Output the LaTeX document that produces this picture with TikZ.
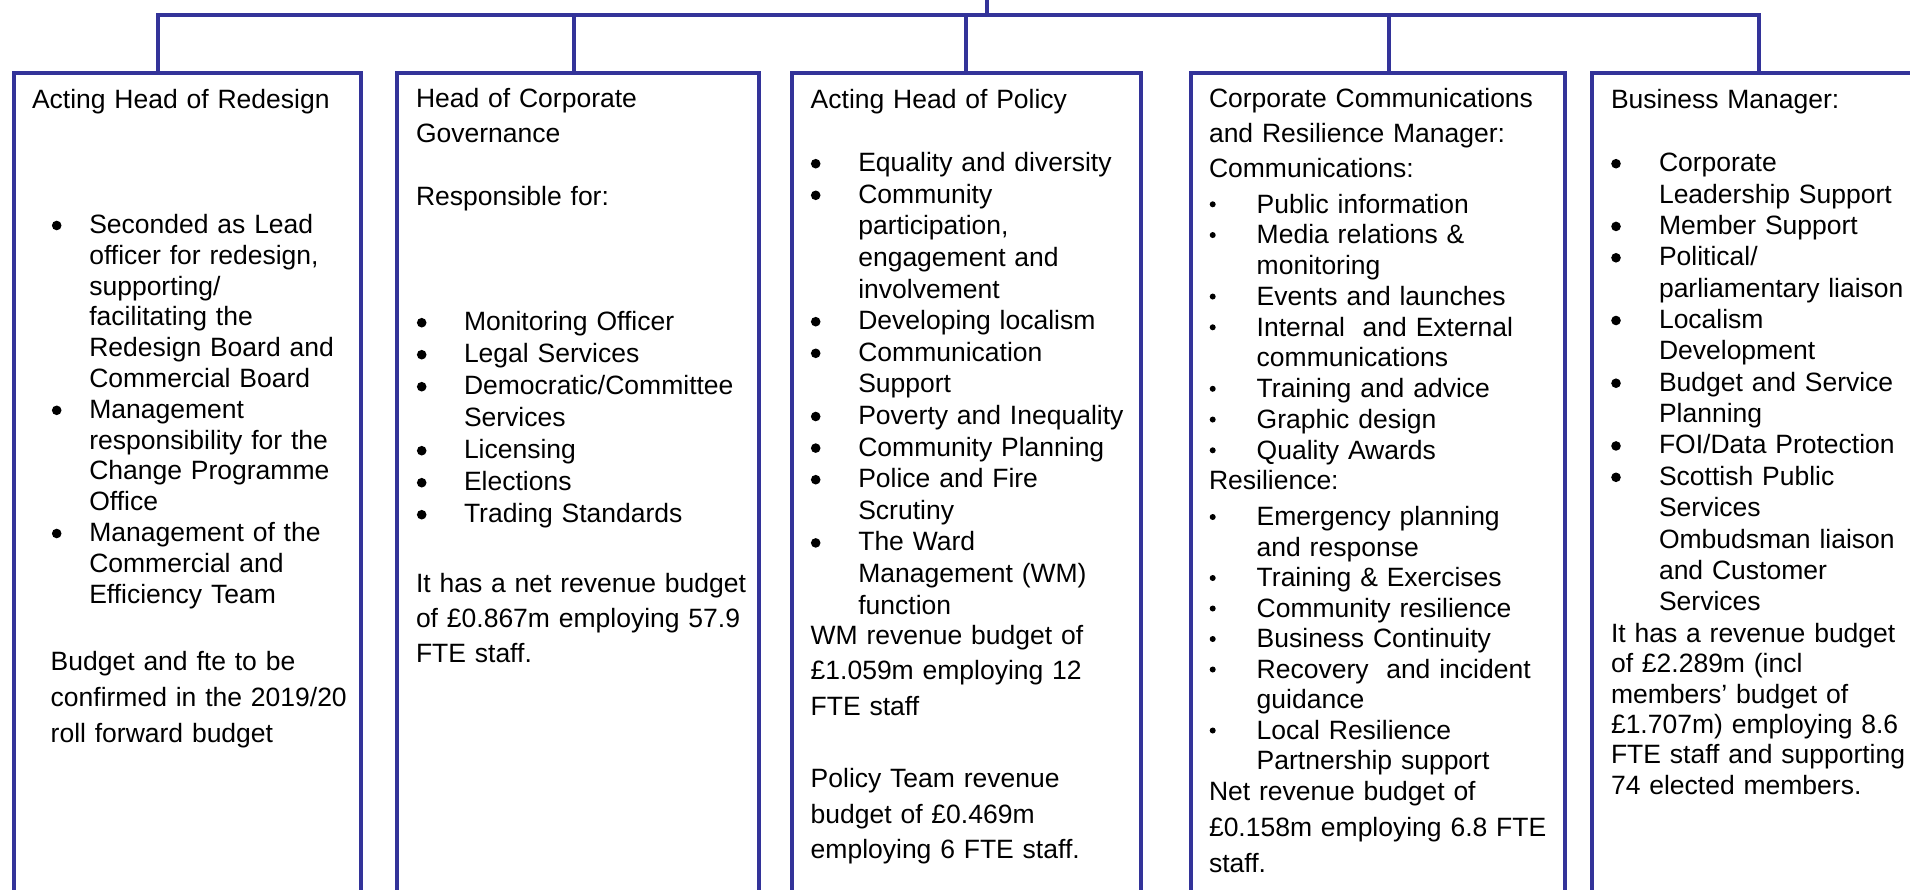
\documentclass[tikz,border=0pt]{standalone}
\usepackage{fontspec}
\setmainfont{Liberation Sans}
\definecolor{orgblue}{RGB}{51,51,153}
\setlength\parindent{0pt}
\newlength\bind
\newcommand\bigdot{\tikz[baseline=0pt]\fill[black] (0pt,8pt) circle[radius=4.8pt];}
\newcommand\smalldot{\tikz[baseline=0pt]\fill[black] (0pt,8.7pt) circle[radius=3pt];}
\newcommand\bitem{\makebox[\bind][l]{\bigdot}}
\newcommand\sitem{\makebox[\bind][l]{\smalldot}}
\newcommand\bcont{\hspace*{\bind}}
\newcommand\fl{\rule{0pt}{20pt}}
\begin{document}
\begin{tikzpicture}[x=1pt,y=-1pt,
  conn/.style={draw=orgblue, line width=4pt, line join=miter},
  orgbox/.style={draw=orgblue, line width=4pt, rectangle, anchor=north west,
    inner sep=0pt, outer sep=0pt, minimum height=900pt},
  txt/.style={anchor=north west, inner sep=0pt, outer sep=0pt, text width=400pt, align=left}]
\useasboundingbox (0,0) rectangle (1910,889);
\clip (0,0) rectangle (1910,889);
\fill[white] (0,0) rectangle (1910,889);

% boxes
\node[orgbox, minimum width=347pt]   (b1) at (13.7,73.3) {};
\node[orgbox, minimum width=362.3pt] (b2) at (397,73.3) {};
\node[orgbox, minimum width=349.3pt] (b3) at (791.7,73.3) {};
\node[orgbox, minimum width=374pt]   (b4) at (1191,73.3) {};
\node[orgbox, minimum width=330pt]   (b5) at (1592.3,73.3) {};

% connectors
\coordinate (top) at (987,0);
\coordinate (hub) at (987,15);
\coordinate (d1) at (158.3,15);
\coordinate (d2) at (574.3,15);
\coordinate (d3) at (966,15);
\coordinate (d4) at (1388.7,15);
\coordinate (d5) at (1759,15);
\draw[conn] (top) -- (hub);
\draw[conn] (d1 |- b1.north) -- (d1) -- (d5) -- (d5 |- b5.north);
\draw[conn] (d2) -- (d2 |- b2.north);
\draw[conn] (d3) -- (d3 |- b3.north);
\draw[conn] (d4) -- (d4 |- b4.north);

% box 1
\node[txt, font=\fontsize{26.5}{35}\selectfont] (t1) at (32,88.5) {\fl Acting Head of Redesign};
\node[txt, font=\fontsize{26.5}{30.8}\selectfont] (l1) at (51.9,213.5) {\setlength\bind{37.4pt}\fl
\bitem Seconded as Lead\\
\bcont officer for redesign,\\
\bcont supporting/\\
\bcont facilitating the\\
\bcont Redesign Board and\\
\bcont Commercial Board\\
\bitem Management\\
\bcont responsibility for the\\
\bcont Change Programme\\
\bcont Office\\
\bitem Management of the\\
\bcont Commercial and\\
\bcont Efficiency Team};
\node[txt, font=\fontsize{26.5}{35.8}\selectfont] (f1) at (50.7,650.7) {\fl Budget and fte to be\\
confirmed in the 2019/20\\
roll forward budget};

% box 2
\node[txt, font=\fontsize{26.5}{35}\selectfont] (t2) at (416,87.5) {\fl Head of Corporate\\ Governance};
\node[txt, font=\fontsize{26.5}{35}\selectfont] (r2) at (416,185.7) {\fl Responsible for:};
\node[txt, font=\fontsize{26.5}{32}\selectfont] (l2) at (416.9,310.7) {\setlength\bind{47.1pt}\fl
\bitem Monitoring Officer\\
\bitem Legal Services\\
\bitem Democratic/Committee\\
\bcont Services\\
\bitem Licensing\\
\bitem Elections\\
\bitem Trading Standards};
\node[txt, font=\fontsize{26.5}{35}\selectfont] (f2) at (416,572) {\fl It has a net revenue budget\\
of £0.867m employing 57.9\\
FTE staff.};

% box 3
\node[txt, font=\fontsize{26.5}{35}\selectfont] (t3) at (810.7,88.5) {\fl Acting Head of Policy};
\node[txt, font=\fontsize{26.5}{31.6}\selectfont] (l3) at (810.9,151.7) {\setlength\bind{47.4pt}\fl
\bitem Equality and diversity\\
\bitem Community\\
\bcont participation,\\
\bcont engagement and\\
\bcont involvement\\
\bitem Developing localism\\
\bitem Communication\\
\bcont Support\\
\bitem Poverty and Inequality\\
\bitem Community Planning\\
\bitem Police and Fire\\
\bcont Scrutiny\\
\bitem The Ward\\
\bcont Management (WM)\\
\bcont function};
\node[txt, font=\fontsize{26.5}{35.8}\selectfont] (f3) at (810.7,624) {\fl WM revenue budget of\\
£1.059m employing 12\\
FTE staff\\[35.8pt]
Policy Team revenue\\
budget of £0.469m\\
employing 6 FTE staff.};

% box 4
\node[txt, font=\fontsize{26.5}{35}\selectfont] (t4) at (1209,87.3) {\fl Corporate Communications\\
and Resilience Manager:\\
Communications:};
\node[txt, font=\fontsize{26.5}{30.75}\selectfont] (l4) at (1209.7,193) {\setlength\bind{47pt}\fl
\sitem Public information\\
\sitem Media relations \&\\
\bcont monitoring\\
\sitem Events and launches\\
\sitem Internal\ \ and External\\
\bcont communications\\
\sitem Training and advice\\
\sitem Graphic design\\
\sitem Quality Awards};
\node[txt, font=\fontsize{26.5}{35}\selectfont] (r4) at (1209,469) {\fl Resilience:};
\node[txt, font=\fontsize{26.5}{30.5}\selectfont] (m4) at (1209.7,505.7) {\setlength\bind{47pt}\fl
\sitem Emergency planning\\
\bcont and response\\
\sitem Training \& Exercises\\
\sitem Community resilience\\
\sitem Business Continuity\\
\sitem Recovery\ \ and incident\\
\bcont guidance\\
\sitem Local Resilience\\
\bcont Partnership support};
\node[txt, font=\fontsize{26.5}{35.8}\selectfont] (f4) at (1209,780.7) {\fl Net revenue budget of\\
£0.158m employing 6.8 FTE\\
staff.};

% box 5
\node[txt, font=\fontsize{26.5}{35}\selectfont] (t5) at (1611,88.3) {\fl Business Manager:};
\node[txt, font=\fontsize{26.5}{31.36}\selectfont] (l5) at (1611.2,151.7) {\setlength\bind{47.8pt}\fl
\bitem Corporate\\
\bcont Leadership Support\\
\bitem Member Support\\
\bitem Political/\\
\bcont parliamentary liaison\\
\bitem Localism\\
\bcont Development\\
\bitem Budget and Service\\
\bcont Planning\\
\bitem FOI/Data Protection\\
\bitem Scottish Public\\
\bcont Services\\
\bcont Ombudsman liaison\\
\bcont and Customer\\
\bcont Services};
\node[txt, font=\fontsize{26.5}{30.4}\selectfont] (f5) at (1611,622.3) {\fl It has a revenue budget\\
of £2.289m (incl\\
members’ budget of\\
£1.707m) employing 8.6\\
FTE staff and supporting\\
74 elected members.};
\end{tikzpicture}
\end{document}
